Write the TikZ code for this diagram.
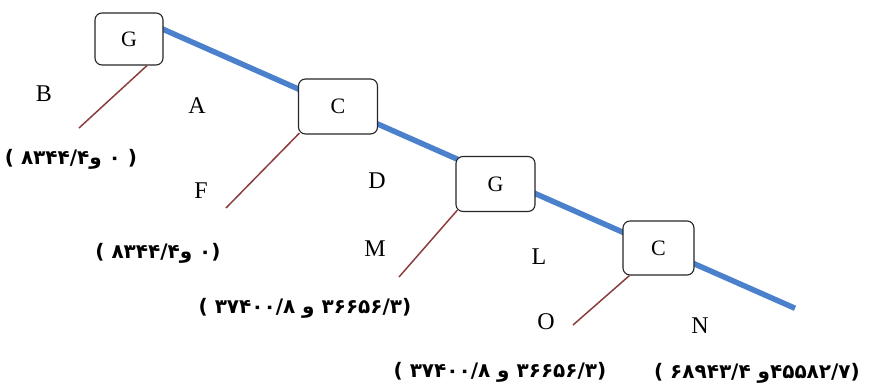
\documentclass[tikz,border=0pt]{standalone}
\usepackage{fontspec}
\setmainfont{Liberation Serif}
\newfontfamily\persianfont[Script=Arabic]{DejaVu Sans}
\TeXXeTstate=1
\usetikzlibrary{calc,backgrounds}
\definecolor{pipeblue}{RGB}{74,128,204}
\definecolor{branchred}{RGB}{140,62,62}
\tikzset{
    stage/.style={draw=black!85, line width=1.1pt, rounded corners=7pt, fill=white,
        minimum width=79pt, minimum height=55pt, font=\fontsize{22}{22}\selectfont},
    letter/.style={font=\fontsize{24}{24}\selectfont},
    pair/.style={font=\persianfont\bfseries\fontsize{20}{20}\selectfont},
    pipe/.style={pipeblue, line width=5.5pt},
    branch/.style={branchred, line width=1.5pt}
}

\begin{document}
\begin{tikzpicture}[x=1pt, y=-1pt]
        \useasboundingbox (0,0) rectangle (869,387);
        % stages on the line
        \node[stage, minimum width=68pt, minimum height=52pt] (g1) at (129,39) {G};
        \node[stage] (c1) at (338,106.5) {C};
        \node[stage] (g2) at (495.5,184) {G};
        \node[stage, minimum width=71pt, minimum height=54pt] (c2) at (658.5,248) {C};
        \coordinate (pipestart) at ($(c1)!-0.58!(c2)$);
        \coordinate (pipeend) at ($(c1)!1.426!(c2)$);
        \begin{scope}[on background layer]
            \draw[pipe] (pipestart) -- (pipeend);
        \end{scope}
        % side branches
        \coordinate (b1) at (79,128);
        \coordinate (b2) at (226,208);
        \coordinate (b3) at (399,277);
        \coordinate (b4) at (573,325);
        \draw[branch] ([xshift=18pt]g1.south) -- (b1);
        \draw[branch] ([xshift=1.5pt, yshift=1.5pt]c1.south west) -- (b2);
        \draw[branch] ([xshift=2pt, yshift=2pt]g2.south west) -- (b3);
        \draw[branch] ([xshift=7pt]c2.south west) -- (b4);
        % letters
        \node[letter] (lb) at (44,94) {B};
        \node[letter] (la) at (197,106) {A};
        \node[letter] (lf) at (201,191) {F};
        \node[letter] (ld) at (377,181) {D};
        \node[letter] (lm) at (375,249) {M};
        \node[letter] (ll) at (539,257) {L};
        \node[letter] (lo) at (546,322) {O};
        \node[letter] (ln) at (700,326) {N};
        % values
        \node[pair] (p1) at (71,159) {\beginR( ۰ و۸۳۴۴/۴ )\endR};
        \node[pair] (p2) at (158,253) {\beginR(۰ و۸۳۴۴/۴ )\endR};
        \node[pair] (p3) at (305,308) {\beginR(۳۶۶۵۶/۳ و ۳۷۴۰۰/۸ )\endR};
        \node[pair] (p4) at (500,372) {\beginR(۳۶۶۵۶/۳ و ۳۷۴۰۰/۸ )\endR};
        \node[pair] (p5) at (757,373) {\beginR(۴۵۵۸۲/۷و ۶۸۹۴۳/۴ )\endR};
\end{tikzpicture}
\end{document}
